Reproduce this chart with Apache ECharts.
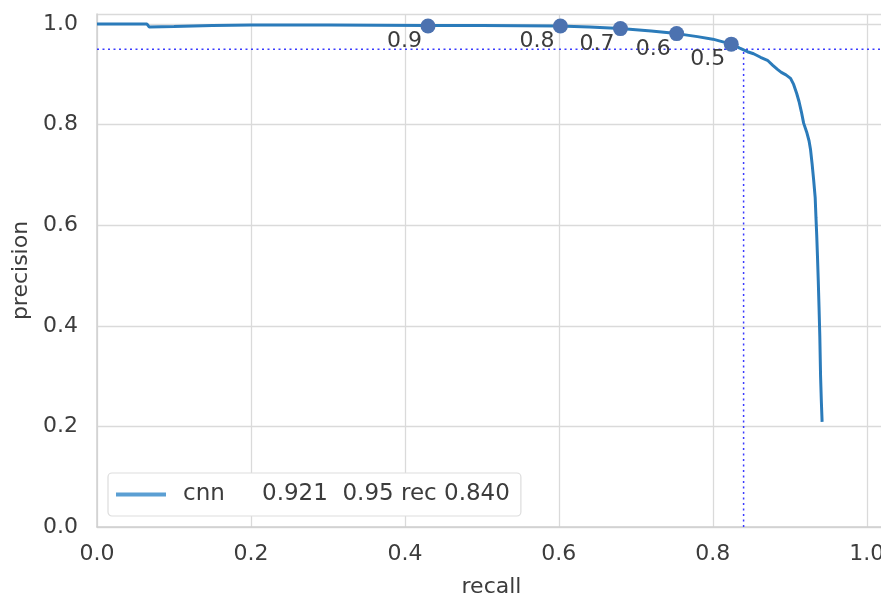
<!DOCTYPE html>
<html><head><meta charset="utf-8">
<script src="https://cdn.jsdelivr.net/npm/echarts@6/dist/echarts.min.js"></script>
<style>html,body{margin:0;padding:0;background:#fff}#c{width:881px;height:599px}</style>
</head><body><div id="c"></div>
<script>
// PR curve (recall, precision)
const recall = [0, 0.065, 0.068, 0.10, 0.15, 0.20, 0.30, 0.43, 0.50, 0.60, 0.64, 0.68, 0.72, 0.753, 0.78, 0.80, 0.824, 0.835, 0.845, 0.853, 0.862, 0.871, 0.878, 0.884, 0.889, 0.895, 0.901, 0.905, 0.909, 0.912, 0.915, 0.918, 0.922, 0.925, 0.927, 0.929, 0.931, 0.933, 0.934, 0.935, 0.936, 0.937, 0.938, 0.939, 0.940, 0.941, 0.942];
const precision = [1.0, 1.0, 0.994, 0.995, 0.997, 0.998, 0.998, 0.997, 0.997, 0.996, 0.994, 0.991, 0.986, 0.981, 0.975, 0.970, 0.960, 0.952, 0.945, 0.941, 0.934, 0.928, 0.918, 0.910, 0.904, 0.899, 0.892, 0.880, 0.862, 0.846, 0.826, 0.803, 0.785, 0.768, 0.750, 0.722, 0.690, 0.655, 0.616, 0.580, 0.537, 0.490, 0.437, 0.380, 0.300, 0.250, 0.209];
// threshold markers
const thrRecall = [0.430, 0.602, 0.680, 0.753, 0.824];
const thrPrecision = [0.996, 0.996, 0.991, 0.981, 0.960];
const thrLabels = ['0.9', '0.8', '0.7', '0.6', '0.5'];
// reference lines
const refPrecision = 0.95;
const refRecall = 0.840;
const seriesName = 'cnn';
const legendStats = '0.921  0.95 rec 0.840';
const xTicks = [0, 0.2, 0.4, 0.6, 0.8, 1.0];
const yTicks = [0, 0.2, 0.4, 0.6, 0.8, 1.0];

const FONT = 'DejaVu Sans';
const TXT = '#3c3c3c';
const chart = echarts.init(document.getElementById('c'), null, {renderer: 'canvas'});
const isTick = (ticks, v) => ticks.some(t => Math.abs(t - v) < 1e-6);
const xMax = 1.025;
const yMax = 1.02;

chart.setOption({
  animation: false,
  backgroundColor: '#ffffff',
  grid: {left: 97, top: 14, right: -5, bottom: 72, containLabel: false, outerBoundsMode: 'none'},
  xAxis: {
    type: 'value', min: 0, max: xMax, interval: 0.2,
    name: 'recall', nameLocation: 'middle', nameGap: 49,
    nameTextStyle: {fontFamily: FONT, fontSize: 22, color: TXT},
    axisLine: {show: true, lineStyle: {color: '#d0d0d0', width: 1.5}},
    axisTick: {show: false},
    axisLabel: {margin: 16, fontFamily: FONT, fontSize: 22, color: TXT,
      formatter: v => isTick(xTicks, v) ? v.toFixed(1) : ''},
    splitLine: {show: true, lineStyle: {color: '#dadada', width: 1.3}}
  },
  yAxis: {
    type: 'value', min: 0, max: yMax, interval: 0.2,
    name: 'precision', nameLocation: 'middle', nameGap: 64,
    nameTextStyle: {fontFamily: FONT, fontSize: 22, color: TXT},
    axisLine: {show: true, lineStyle: {color: '#d0d0d0', width: 1.5}},
    axisTick: {show: false},
    axisLabel: {margin: 19, fontFamily: FONT, fontSize: 22, color: TXT,
      formatter: v => isTick(yTicks, v) ? v.toFixed(1) : ''},
    splitLine: {show: true, lineStyle: {color: '#dadada', width: 1.3}}
  },
  legend: {
    data: [{name: seriesName, icon: 'rect'}],
    left: 108, top: 473,
    padding: [10, 11, 10, 8],
    itemWidth: 50, itemHeight: 4,
    backgroundColor: '#ffffff',
    borderColor: '#dddddd', borderWidth: 1.2, borderRadius: 4,
    formatter: n => '{a|' + n + '}{b|' + legendStats + '}',
    textStyle: {
      fontFamily: FONT, fontSize: 23, color: TXT,
      rich: {
        a: {fontFamily: FONT, fontSize: 23, color: TXT, width: 79, padding: [0, 0, 0, 12]},
        b: {fontFamily: FONT, fontSize: 23, color: TXT}
      }
    }
  },
  series: [
    {
      name: 'hline', type: 'line', silent: true, symbol: 'none', z: 1,
      data: [[0, refPrecision], [xMax, refPrecision]],
      lineStyle: {color: '#3a3aff', width: 1.5, type: [2, 3.5]}
    },
    {
      name: 'vline', type: 'line', silent: true, symbol: 'none', z: 1,
      data: [[refRecall, 0], [refRecall, refPrecision]],
      lineStyle: {color: '#3a3aff', width: 1.5, type: [2, 3.5]}
    },
    {
      name: seriesName, type: 'line', symbol: 'none', z: 3,
      data: recall.map((r, i) => [r, precision[i]]),
      itemStyle: {color: '#5b9fd3'},
      lineStyle: {color: '#2b7bba', width: 3}
    },
    {
      name: 'thresholds', type: 'scatter', z: 4,
      symbolSize: 15,
      itemStyle: {color: '#4c72b0', opacity: 1},
      data: thrRecall.map((r, i) => ({value: [r, thrPrecision[i]], name: thrLabels[i]})),
      label: {
        show: true, position: [1.5, 12], align: 'right', verticalAlign: 'top',
        formatter: p => p.name,
        fontFamily: FONT, fontSize: 22, color: TXT
      }
    }
  ]
});
</script></body></html>
